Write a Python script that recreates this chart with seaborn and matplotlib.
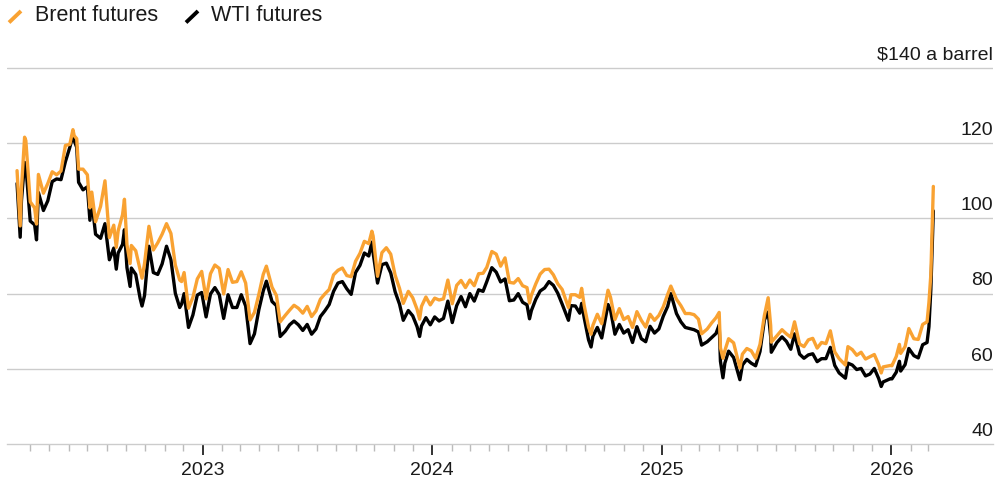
import numpy as np
import pandas as pd
import seaborn as sns
import matplotlib.pyplot as plt
import matplotlib.dates as mdates
from matplotlib.lines import Line2D

# weekly-ish closes ($ a barrel)
dates = [
    "2022-03-11", "2022-03-16", "2022-03-18", "2022-03-23", "2022-03-25", "2022-04-01", "2022-04-08",
    "2022-04-11", "2022-04-14", "2022-04-22", "2022-04-29", "2022-05-06", "2022-05-13", "2022-05-20",
    "2022-05-27", "2022-06-03", "2022-06-08", "2022-06-10", "2022-06-14", "2022-06-17", "2022-06-24",
    "2022-07-01", "2022-07-05", "2022-07-08", "2022-07-14", "2022-07-22", "2022-07-29", "2022-08-05",
    "2022-08-12", "2022-08-16", "2022-08-19", "2022-08-26", "2022-08-29", "2022-09-02", "2022-09-07",
    "2022-09-09", "2022-09-16", "2022-09-23", "2022-09-26", "2022-09-30", "2022-10-07", "2022-10-14",
    "2022-10-21", "2022-10-28", "2022-11-04", "2022-11-11", "2022-11-18", "2022-11-25", "2022-11-28",
    "2022-12-02", "2022-12-09", "2022-12-16", "2022-12-23", "2022-12-30",
    "2023-01-06", "2023-01-13", "2023-01-20", "2023-01-27", "2023-02-03", "2023-02-10", "2023-02-17",
    "2023-02-24", "2023-03-03", "2023-03-10", "2023-03-17", "2023-03-24", "2023-03-31", "2023-04-07",
    "2023-04-12", "2023-04-21", "2023-04-28", "2023-05-04", "2023-05-12", "2023-05-19", "2023-05-26",
    "2023-06-02", "2023-06-09", "2023-06-16", "2023-06-23", "2023-06-30", "2023-07-07", "2023-07-14",
    "2023-07-21", "2023-07-28", "2023-08-04", "2023-08-11", "2023-08-18", "2023-08-25", "2023-09-01",
    "2023-09-08", "2023-09-15", "2023-09-22", "2023-09-27", "2023-09-29", "2023-10-06", "2023-10-13",
    "2023-10-20", "2023-10-27", "2023-11-03", "2023-11-10", "2023-11-16", "2023-11-24", "2023-12-01",
    "2023-12-08", "2023-12-12", "2023-12-15", "2023-12-22", "2023-12-29",
    "2024-01-05", "2024-01-12", "2024-01-19", "2024-01-26", "2024-02-02", "2024-02-09", "2024-02-16",
    "2024-02-23", "2024-03-01", "2024-03-08", "2024-03-15", "2024-03-22", "2024-03-28", "2024-04-05",
    "2024-04-12", "2024-04-19", "2024-04-26", "2024-05-03", "2024-05-10", "2024-05-17", "2024-05-24",
    "2024-05-31", "2024-06-04", "2024-06-07", "2024-06-14", "2024-06-21", "2024-06-28", "2024-07-05",
    "2024-07-12", "2024-07-19", "2024-07-26", "2024-08-05", "2024-08-09", "2024-08-16", "2024-08-23",
    "2024-08-26", "2024-08-30", "2024-09-06", "2024-09-10", "2024-09-13", "2024-09-20", "2024-09-27",
    "2024-10-07", "2024-10-11", "2024-10-18", "2024-10-25", "2024-11-01", "2024-11-08", "2024-11-15",
    "2024-11-22", "2024-11-29", "2024-12-06", "2024-12-13", "2024-12-20", "2024-12-27",
    "2025-01-03", "2025-01-10", "2025-01-15", "2025-01-24", "2025-01-31", "2025-02-07", "2025-02-14",
    "2025-02-21", "2025-02-28", "2025-03-05", "2025-03-14", "2025-03-21", "2025-03-28", "2025-04-02",
    "2025-04-04", "2025-04-08", "2025-04-11", "2025-04-17", "2025-04-25", "2025-05-05", "2025-05-09",
    "2025-05-16", "2025-05-23", "2025-05-30", "2025-06-06", "2025-06-13", "2025-06-19", "2025-06-23",
    "2025-06-24", "2025-07-03", "2025-07-11", "2025-07-18", "2025-07-25", "2025-07-31", "2025-08-08",
    "2025-08-15", "2025-08-22", "2025-08-29", "2025-09-05", "2025-09-12", "2025-09-19", "2025-09-26",
    "2025-10-03", "2025-10-10", "2025-10-20", "2025-10-24", "2025-10-31", "2025-11-07", "2025-11-14",
    "2025-11-21", "2025-11-28", "2025-12-05", "2025-12-12", "2025-12-16", "2025-12-19", "2025-12-31",
    "2026-01-02", "2026-01-09", "2026-01-14", "2026-01-16", "2026-01-23", "2026-01-29", "2026-02-06",
    "2026-02-13", "2026-02-20", "2026-02-27", "2026-03-02", "2026-03-05", "2026-03-09",
]

brent = [
    112.7, 98.0, 107.9, 121.6, 120.7, 104.4, 102.8,
    98.5, 111.7, 106.7, 109.3, 112.4, 111.6, 112.6,
    119.4, 119.7, 123.6, 122.0, 121.2, 113.1, 113.1,
    111.6, 102.8, 107.0, 99.1, 103.2, 110.0, 94.9,
    98.2, 92.3, 96.7, 101.0, 105.1, 93.0, 88.0,
    92.8, 91.4, 86.2, 84.1, 88.0, 97.9, 91.6,
    93.5, 95.8, 98.6, 96.0, 87.6, 83.6, 83.2,
    85.6, 76.1, 79.0, 83.9, 85.9,
    78.6, 85.3, 87.6, 86.7, 79.9, 86.4, 83.0,
    83.2, 85.8, 82.8, 73.0, 75.0, 79.8, 85.1,
    87.3, 81.7, 79.5, 72.5, 74.2, 75.6, 76.9,
    76.1, 74.8, 76.6, 73.9, 75.4, 78.5, 79.9,
    81.1, 85.0, 86.2, 86.8, 84.8, 84.5, 88.6,
    90.7, 93.9, 93.3, 96.6, 95.3, 84.6, 90.9,
    92.2, 90.5, 84.9, 81.4, 77.4, 80.6, 78.9,
    75.8, 73.2, 76.6, 79.1, 77.0,
    78.8, 78.3, 78.6, 83.6, 77.3, 82.2, 83.5,
    81.6, 83.6, 82.1, 85.3, 85.4, 87.0, 91.2,
    90.5, 87.3, 89.5, 83.0, 82.8, 84.0, 82.1,
    81.6, 77.5, 79.6, 82.6, 85.2, 86.4, 86.5,
    85.0, 82.6, 81.1, 76.3, 79.7, 79.7, 79.0,
    81.4, 76.9, 71.1, 69.2, 71.6, 74.5, 72.0,
    80.9, 79.0, 73.1, 76.0, 73.1, 73.9, 71.0,
    75.2, 72.9, 71.1, 74.5, 72.9, 74.2,
    76.5, 79.8, 82.0, 78.5, 76.8, 74.7, 74.7,
    74.4, 73.2, 69.3, 70.6, 72.2, 73.6, 75.0,
    65.6, 62.8, 64.8, 68.0, 66.9, 60.2, 63.9,
    65.4, 64.8, 62.8, 66.5, 74.2, 78.9, 71.5,
    67.1, 68.8, 70.4, 69.3, 68.4, 72.5, 66.6,
    65.9, 67.7, 68.1, 65.5, 67.0, 66.7, 70.1,
    64.5, 62.7, 61.0, 65.9, 65.1, 63.6, 64.4,
    62.6, 63.2, 63.8, 61.1, 58.9, 60.5, 60.9,
    60.8, 63.3, 66.5, 64.1, 65.9, 70.7, 68.0,
    67.8, 71.8, 72.5, 77.7, 85.0, 108.5,
]

wti = [
    109.3, 95.0, 104.7, 114.9, 113.9, 99.3, 98.3,
    94.3, 106.9, 102.1, 104.7, 109.8, 110.5, 110.3,
    115.1, 118.9, 122.1, 120.7, 118.9, 109.6, 107.6,
    108.4, 99.5, 104.8, 95.8, 94.7, 98.6, 89.0,
    92.1, 86.5, 90.8, 93.1, 97.0, 86.9, 81.9,
    86.8, 85.1, 78.7, 76.7, 79.5, 92.6, 85.6,
    85.1, 87.9, 92.6, 89.0, 80.1, 76.3, 77.2,
    80.0, 71.0, 74.3, 79.6, 80.3,
    73.8, 79.9, 81.6, 79.7, 73.4, 79.7, 76.3,
    76.3, 79.7, 76.7, 66.7, 69.3, 75.7, 80.7,
    83.3, 77.9, 76.8, 68.6, 70.0, 71.7, 72.7,
    71.7, 70.2, 71.8, 69.2, 70.6, 73.9, 75.4,
    77.1, 80.6, 82.8, 83.2, 81.3, 79.8, 85.6,
    87.5, 90.8, 90.0, 93.7, 90.8, 82.8, 87.7,
    88.1, 85.5, 80.5, 77.2, 72.9, 75.5, 74.1,
    71.2, 68.6, 71.4, 73.6, 71.7,
    73.8, 72.7, 73.4, 78.0, 72.3, 76.8, 79.2,
    76.5, 80.0, 78.0, 81.0, 80.6, 83.2, 86.9,
    85.7, 83.1, 83.9, 78.1, 78.3, 80.0, 77.7,
    77.0, 73.3, 75.5, 78.5, 80.7, 81.5, 83.2,
    82.2, 80.1, 77.2, 72.9, 76.8, 76.7, 74.8,
    77.4, 73.6, 67.7, 65.8, 68.7, 71.0, 68.2,
    77.1, 75.6, 69.2, 71.8, 69.5, 70.4, 67.0,
    71.2, 68.0, 67.2, 71.3, 69.5, 70.6,
    74.0, 76.6, 80.0, 74.7, 72.5, 71.0, 70.7,
    70.4, 69.8, 66.3, 67.2, 68.3, 69.4, 71.7,
    62.0, 57.6, 61.5, 64.7, 63.0, 57.1, 61.0,
    62.5, 61.5, 60.8, 64.6, 73.0, 75.1, 68.5,
    64.4, 67.0, 68.5, 67.3, 65.2, 69.3, 63.9,
    62.8, 63.7, 64.0, 61.9, 62.7, 62.7, 65.7,
    60.9, 58.9, 57.5, 61.5, 61.0, 59.8, 60.1,
    58.1, 58.6, 60.1, 57.4, 55.3, 56.5, 57.4,
    57.3, 59.1, 62.0, 59.4, 61.1, 65.4, 63.5,
    62.9, 66.4, 67.0, 71.2, 81.0, 102.0,
]

series_names = ["WTI futures", "Brent futures"]
y_ticks = [40, 60, 80, 100, 120, 140]
y_labels = ["40", "60", "80", "100", "120", "$140 a barrel"]
year_ticks = ["2023-01-01", "2024-01-01", "2025-01-01", "2026-01-01"]

ORANGE = "#F9A232"
BLACK = "#000000"

df = pd.DataFrame({
    "date": pd.to_datetime(dates * 2),
    "price": wti + brent,
    "series": [series_names[0]] * len(dates) + [series_names[1]] * len(dates),
})

sns.set_theme(style="white")
plt.rcParams["font.family"] = ["Liberation Sans", "DejaVu Sans"]

W, H = 999, 483
fig = plt.figure(figsize=(W / 100, H / 100), dpi=100)
ax = fig.add_axes([7 / W, 39 / H, (993 - 7) / W, (444 - 64.25) / H])

sns.lineplot(data=df, x="date", y="price", hue="series", hue_order=series_names,
             palette=[BLACK, ORANGE], linewidth=2.4, legend=False, ax=ax)

ax.set_xlim(pd.Timestamp("2022-02-23"), pd.Timestamp("2026-06-12"))
ax.set_ylim(40, 141)
ax.set_xlabel("")
ax.set_ylabel("")

for s in ["top", "right", "left"]:
    ax.spines[s].set_visible(False)
ax.spines["bottom"].set_color("#cccccc")
ax.spines["bottom"].set_linewidth(1.0)

# horizontal gridlines
for v in y_ticks[1:]:
    ax.axhline(v, color="#cccccc", lw=1.0, zorder=0)
ax.set_yticks([])

# y labels sit above the gridlines, right aligned
ytf = ax.get_yaxis_transform()
for v, lab in zip(y_ticks, y_labels):
    ax.text(1.0, v + 2.2, lab, transform=ytf, ha="right", va="baseline",
            fontsize=14, color="#1a1a1a")

# x axis: years major, months minor
ax.set_xticks(pd.to_datetime(year_ticks))
ax.xaxis.set_major_formatter(mdates.DateFormatter("%Y"))
minor = [d for d in pd.date_range("2022-04-01", "2026-03-01", freq="MS") if d.month != 1]
ax.set_xticks(minor, minor=True)
ax.tick_params(axis="x", which="major", length=8, width=1.3, color="#222222",
               labelsize=14, labelcolor="#1a1a1a", pad=5, direction="out", bottom=True)
ax.tick_params(axis="x", which="minor", length=5, width=1.0, color="#bbbbbb",
               direction="out", bottom=True)

# legend drawn by hand
def fx(px):
    return px / W

def fy(py):
    return 1 - py / H

fig.add_artist(Line2D([fx(9), fx(21)], [fy(22.5), fy(11)], color=ORANGE, lw=2.8,
                      solid_capstyle="butt", transform=fig.transFigure))
fig.text(fx(35), fy(21), "Brent futures", fontsize=15.5, color="#1a1a1a", va="baseline")
fig.add_artist(Line2D([fx(186), fx(198)], [fy(22.5), fy(11)], color=BLACK, lw=2.8,
                      solid_capstyle="butt", transform=fig.transFigure))
fig.text(fx(211), fy(21), "WTI futures", fontsize=15.5, color="#1a1a1a", va="baseline")

fig.savefig("out.png", dpi=100)
